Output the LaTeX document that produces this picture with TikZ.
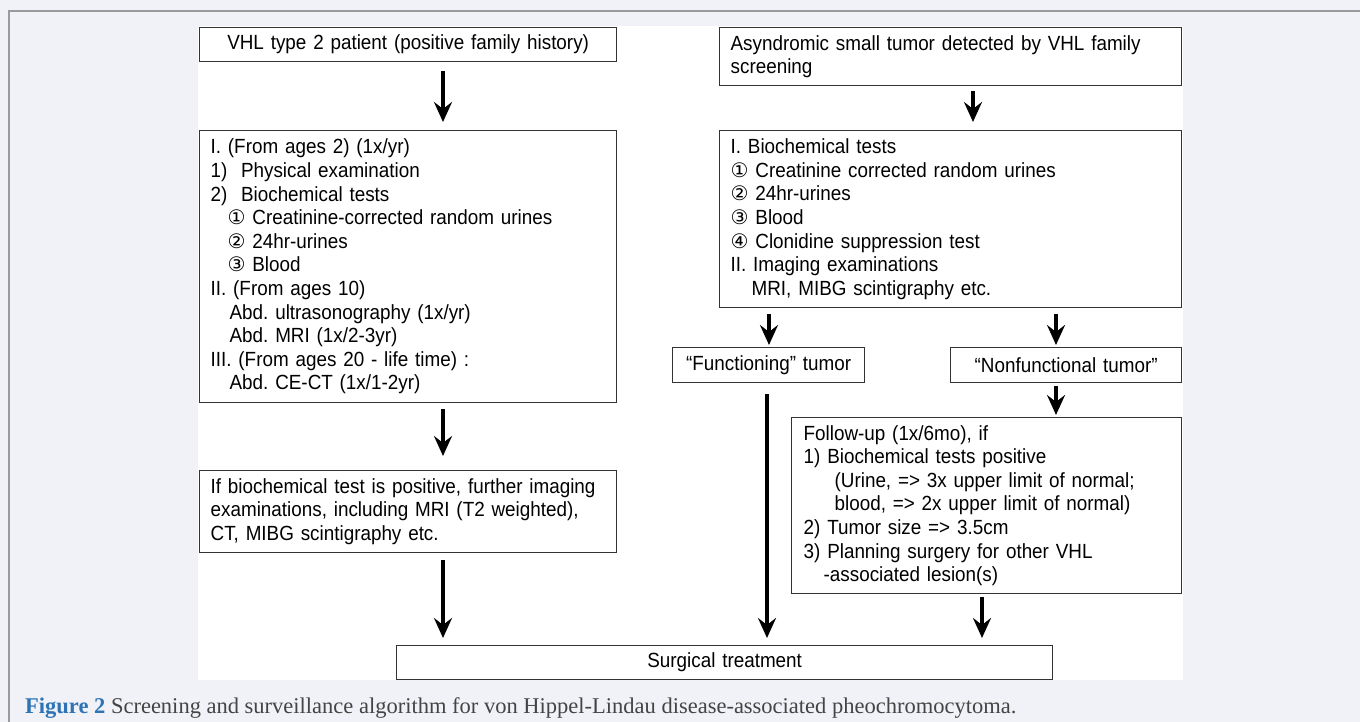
\documentclass[tikz,border=0pt]{standalone}
\usepackage{fontspec}
\setmainfont[FakeStretch=0.92]{Liberation Sans}
\newfontfamily\capfont{Liberation Serif}
\newfontfamily\circfont{DejaVu Sans}
\usetikzlibrary{arrows.meta}
\frenchspacing
\definecolor{bgc}{HTML}{F0F2F7}
\definecolor{figblue}{HTML}{2E74B5}
\definecolor{capgray}{HTML}{444444}
\definecolor{boxline}{HTML}{333333}
\definecolor{frameline}{HTML}{9A9A9A}
\newcommand{\cn}[1]{{\circfont\fontsize{20}{20}\selectfont #1}}
\tikzset{
  box/.style={draw=boxline, line width=1.3pt, fill=white, anchor=north west,
    inner xsep=11pt, inner ysep=0pt, align=left,
    font=\fontsize{20.5}{23.6}\selectfont},
  cbox/.style={box, align=center},
  arr/.style={line width=4pt, -{Stealth[length=20pt,width=18pt,inset=7pt]}},
}
\begin{document}
\begin{tikzpicture}[x=1pt,y=-1pt]
\useasboundingbox (0,0) rectangle (1360,722);
\fill[bgc] (0,0) rectangle (1360,722);
\draw[frameline, line width=1.5pt] (1360,11) -- (9,11) -- (9,722);
\fill[white] (198,26) rectangle (1183,680);

% left column
\node[cbox, text width=395pt, minimum height=34pt] (l1) at (199,27)
  {VHL type 2 patient (positive family history)};
\node[box, text width=395pt, minimum height=272pt] (l2) at (199,130)
  {I. (From ages 2) (1x/yr)\\
   1)\ \ Physical examination\\
   2)\ \ Biochemical tests\\
   \hspace*{17pt}\cn{①} Creatinine-corrected random urines\\
   \hspace*{17pt}\cn{②} 24hr-urines\\
   \hspace*{17pt}\cn{③} Blood\\
   II. (From ages 10)\\
   \hspace*{19pt}Abd. ultrasonography (1x/yr)\\
   \hspace*{19pt}Abd. MRI (1x/2-3yr)\\
   III. (From ages 20 - life time) :\\
   \hspace*{19pt}Abd. CE-CT (1x/1-2yr)};
\node[box, text width=395pt, minimum height=82pt] (l3) at (199,470)
  {If biochemical test is positive, further imaging\\
   examinations, including MRI (T2 weighted),\\
   CT, MIBG scintigraphy etc.};

% right column
\node[box, text width=440pt, minimum height=58pt] (r1) at (719,27)
  {Asyndromic small tumor detected by VHL family\\ screening};
\node[box, text width=440pt, minimum height=177pt] (r2) at (719,130)
  {I. Biochemical tests\\
   \cn{①} Creatinine corrected random urines\\
   \cn{②} 24hr-urines\\
   \cn{③} Blood\\
   \cn{④} Clonidine suppression test\\
   II. Imaging examinations\\
   \hspace*{21pt}MRI, MIBG scintigraphy etc.};
\node[cbox, text width=170pt, minimum height=35pt] (fn) at (672,347)
  {“Functioning” tumor};
\node[cbox, text width=209pt, minimum height=35pt] (nf) at (950,347)
  {“Nonfunctional tumor”};
\node[box, inner xsep=12pt, text width=366pt, minimum height=176pt] (fu) at (791,417)
  {Follow-up (1x/6mo), if\\
   1) Biochemical tests positive\\
   \hspace*{31pt}(Urine, => 3x upper limit of normal;\\
   \hspace*{31pt}blood, => 2x upper limit of normal)\\
   2) Tumor size => 3.5cm\\
   3) Planning surgery for other VHL\\
   \hspace*{20pt}-associated lesion(s)};
\node[cbox, text width=634pt, minimum height=34pt] (st) at (396,645)
  {Surgical treatment};

% arrow columns
\coordinate (xa) at (443,0);
\coordinate (xb) at (973,0);
\coordinate (xc) at (769,0);
\coordinate (xd) at (1056,0);
\coordinate (xe) at (767,0);
\coordinate (xf) at (982,0);

\draw[arr, shorten <=9pt, shorten >=8pt] (l1.south -| xa) -- (l2.north -| xa);
\draw[arr, shorten <=6pt, shorten >=14pt] (l2.south -| xa) -- (l3.north -| xa);
\draw[arr, shorten <=7pt, shorten >=7pt] (l3.south -| xa) -- (st.north -| xa);
\draw[arr, shorten <=5pt, shorten >=8pt] (r1.south -| xb) -- (r2.north -| xb);
\draw[arr, shorten <=6pt, shorten >=2pt] (r2.south -| xc) -- (fn.north -| xc);
\draw[arr, shorten <=6pt, shorten >=2pt] (r2.south -| xd) -- (nf.north -| xd);
\draw[arr, shorten <=11pt, shorten >=7pt] (fn.south -| xe) -- (st.north -| xe);
\draw[arr, shorten <=3pt, shorten >=2pt] (nf.south -| xd) -- (fu.north -| xd);
\draw[arr, shorten <=3pt, shorten >=7pt] (fu.south -| xf) -- (st.north -| xf);

% caption
\node[anchor=base west, inner sep=0pt, text=capgray,
  font=\capfont\fontsize{22.5}{22.5}\selectfont] (cap) at (25,713)
  {\textcolor{figblue}{\bfseries Figure 2} Screening and surveillance algorithm for von Hippel-Lindau disease-associated pheochromocytoma.};
\end{tikzpicture}
\end{document}
